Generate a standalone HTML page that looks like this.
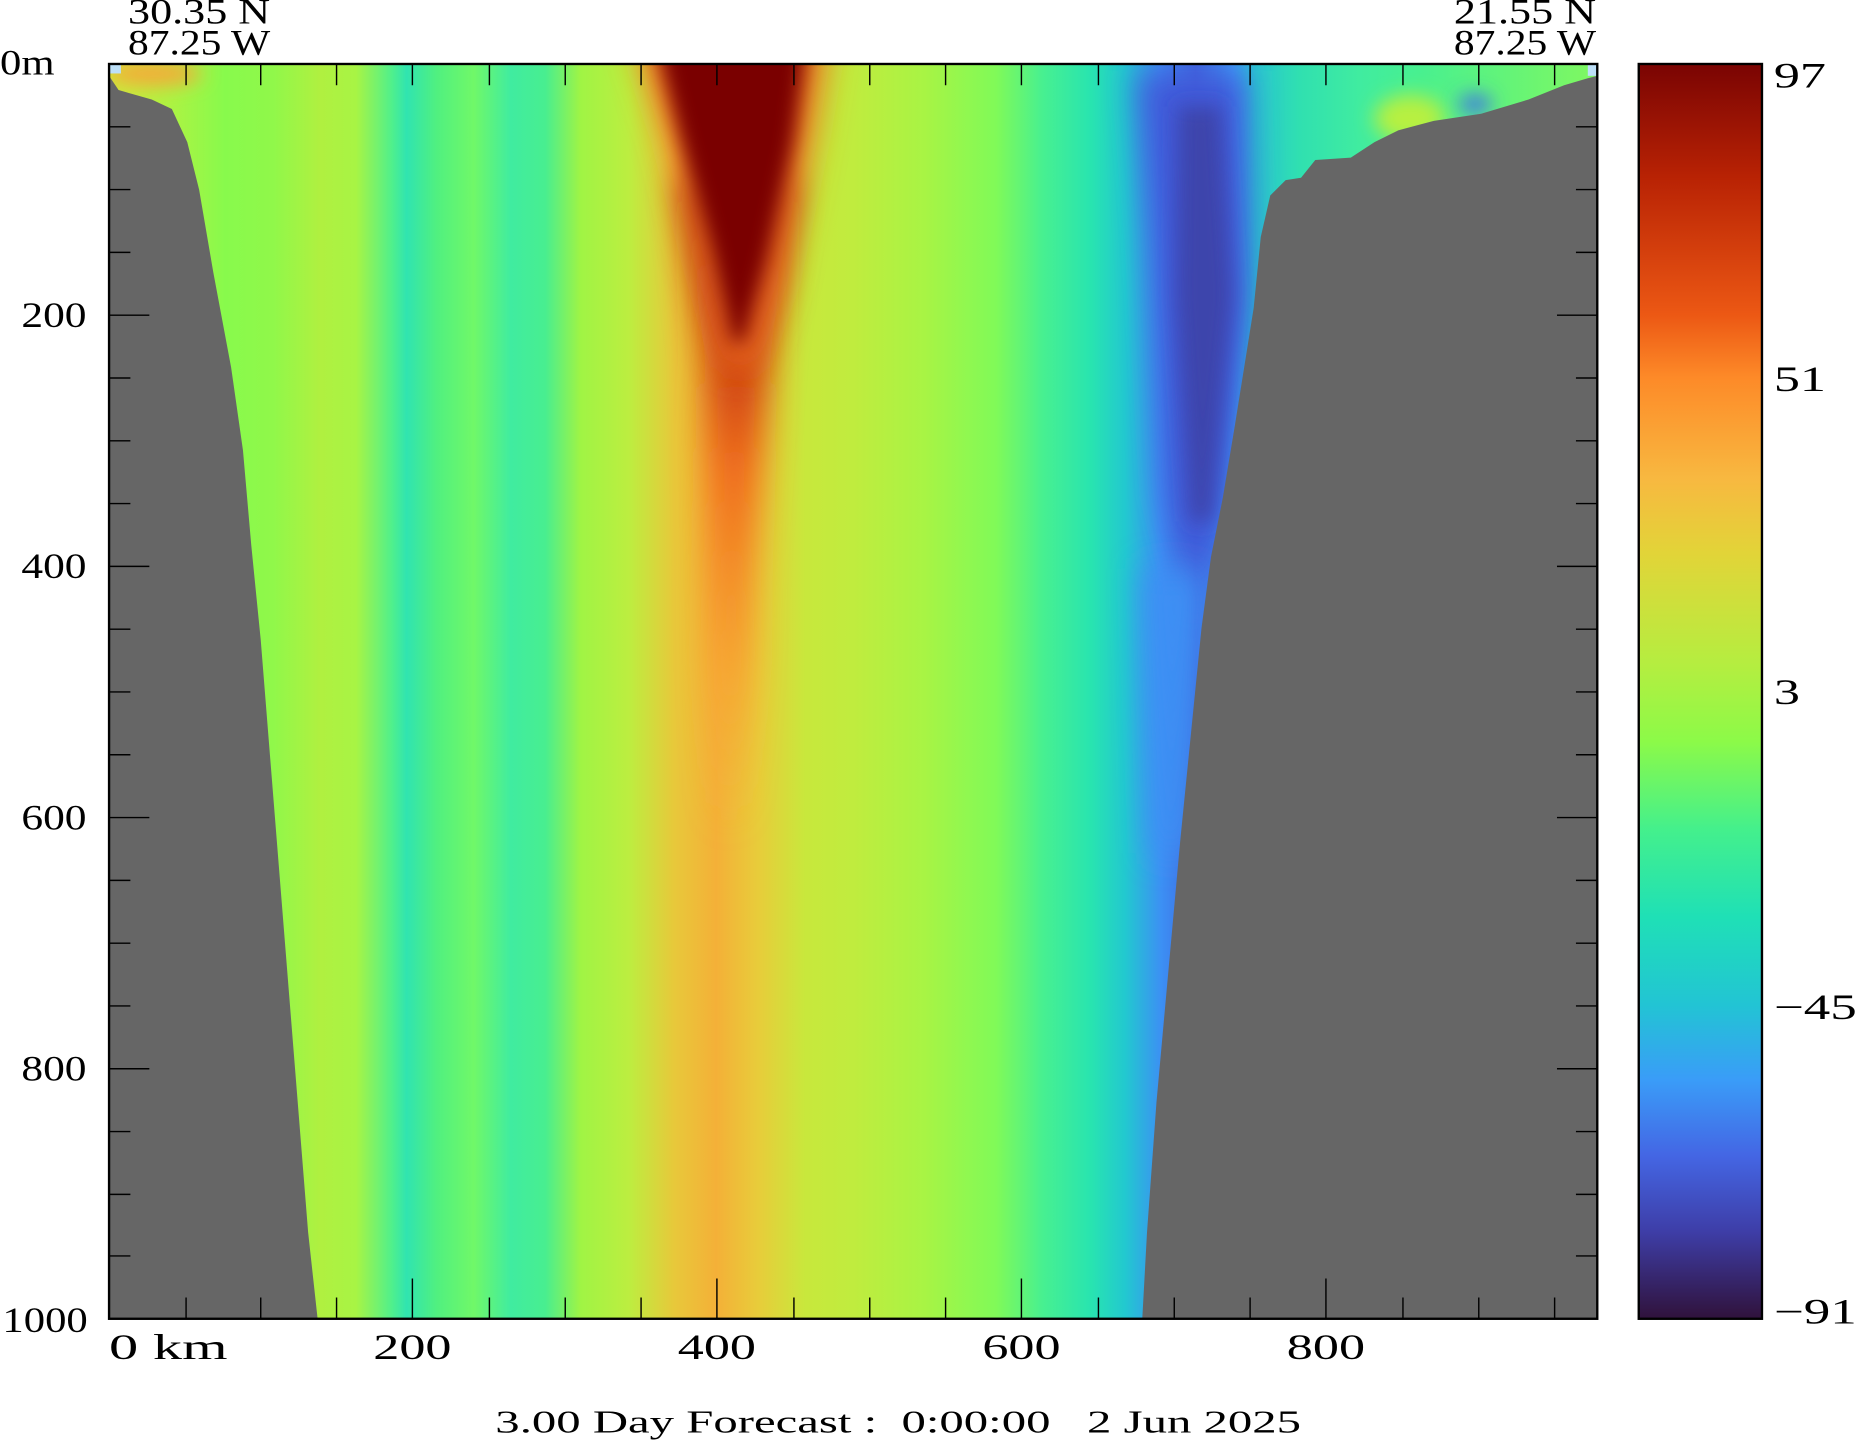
<!DOCTYPE html>
<html><head><meta charset="utf-8"><style>html,body{margin:0;padding:0;background:#fff}svg{display:block}</style></head><body>
<svg width="1858" height="1442" viewBox="0 0 1568 1217" xmlns="http://www.w3.org/2000/svg" font-family="Liberation Serif, serif">
<defs>
<linearGradient id="bg" x1="92" x2="1348" y1="0" y2="0" gradientUnits="userSpaceOnUse">
<stop offset="0.006" stop-color="#c8ec3c"/>
<stop offset="0.046" stop-color="#a8f444"/>
<stop offset="0.078" stop-color="#88fa4c"/>
<stop offset="0.11" stop-color="#90f84a"/>
<stop offset="0.142" stop-color="#b0f040"/>
<stop offset="0.166" stop-color="#a8f444"/>
<stop offset="0.19" stop-color="#50f08c"/>
<stop offset="0.2" stop-color="#30e4b0"/>
<stop offset="0.22" stop-color="#50f080"/>
<stop offset="0.245" stop-color="#70f868"/>
<stop offset="0.27" stop-color="#40eca0"/>
<stop offset="0.293" stop-color="#48ee90"/>
<stop offset="0.317" stop-color="#a0f444"/>
<stop offset="0.349" stop-color="#bcee40"/>
<stop offset="0.38" stop-color="#e8c83a"/>
<stop offset="0.408" stop-color="#f4b038"/>
<stop offset="0.436" stop-color="#e8cc3a"/>
<stop offset="0.468" stop-color="#c8e83c"/>
<stop offset="0.5" stop-color="#c0ec3e"/>
<stop offset="0.548" stop-color="#a8f444"/>
<stop offset="0.596" stop-color="#80fa58"/>
<stop offset="0.627" stop-color="#48f090"/>
<stop offset="0.66" stop-color="#28e4b0"/>
<stop offset="0.683" stop-color="#22c8d0"/>
<stop offset="0.707" stop-color="#3c90f4"/>
<stop offset="0.73" stop-color="#4068e0"/>
<stop offset="0.755" stop-color="#3ca0f8"/>
<stop offset="0.77" stop-color="#28c8d0"/>
<stop offset="0.8" stop-color="#30e0b0"/>
<stop offset="0.84" stop-color="#40eca0"/>
<stop offset="0.88" stop-color="#48f090"/>
<stop offset="1" stop-color="#80f860"/>
</linearGradient>
<linearGradient id="red" x1="0" x2="0" y1="150" y2="700" gradientUnits="userSpaceOnUse">
<stop offset="0" stop-color="#8a0c04"/>
<stop offset="0.2" stop-color="#b82808"/>
<stop offset="0.45" stop-color="#f06a1c"/>
<stop offset="0.75" stop-color="#f8a030"/>
<stop offset="1" stop-color="#f8a838" stop-opacity="0"/>
</linearGradient>
<linearGradient id="cb" x1="0" x2="0" y1="54" y2="1113" gradientUnits="userSpaceOnUse">
<stop offset="0" stop-color="#7a0403"/>
<stop offset="0.09" stop-color="#b82204"/>
<stop offset="0.2" stop-color="#ec5814"/>
<stop offset="0.25" stop-color="#fd8a28"/>
<stop offset="0.33" stop-color="#f8b840"/>
<stop offset="0.39" stop-color="#e2d438"/>
<stop offset="0.48" stop-color="#b4ee40"/>
<stop offset="0.54" stop-color="#8cfa48"/>
<stop offset="0.61" stop-color="#44f08c"/>
<stop offset="0.68" stop-color="#1fe0b6"/>
<stop offset="0.75" stop-color="#22c4d4"/>
<stop offset="0.81" stop-color="#3a9cf8"/>
<stop offset="0.87" stop-color="#4466e4"/>
<stop offset="0.93" stop-color="#3e3ea8"/>
<stop offset="1" stop-color="#30123b"/>
</linearGradient>
<filter id="bl" filterUnits="userSpaceOnUse" x="0" y="0" width="1568" height="1217"><feGaussianBlur stdDeviation="14"/></filter>
<filter id="bl2" filterUnits="userSpaceOnUse" x="0" y="0" width="1568" height="1217"><feGaussianBlur stdDeviation="8"/></filter>
<clipPath id="pc"><rect x="92" y="54" width="1256" height="1059"/></clipPath>
</defs>
<g clip-path="url(#pc)">
<rect x="92" y="54" width="1256" height="1059" fill="url(#bg)"/>
<polygon points="575,150 670,150 650,300 635,480 625,700 605,700 600,480 595,300" fill="url(#red)" filter="url(#bl)"/>
<polygon points="535,30 700,30 685,120 660,240 635,310 615,310 590,220 565,120" fill="#f07020" filter="url(#bl)"/>
<polygon points="552,30 682,30 670,120 648,220 628,290 618,290 600,210 575,120" fill="#7a0403" filter="url(#bl2)"/>
<polygon points="960,60 1050,60 1055,250 1035,420 1010,520 985,420 972,200" fill="#4058d8" filter="url(#bl)"/>
<polygon points="995,90 1030,90 1040,250 1022,440 1005,440 993,250" fill="#3c44ac" filter="url(#bl2)"/>
<polygon points="965,480 1015,480 1000,720 975,720" fill="#3c90f4" filter="url(#bl)"/>
<ellipse cx="130" cy="62" rx="40" ry="10" fill="#f8a838" filter="url(#bl2)"/>
<ellipse cx="1190" cy="100" rx="30" ry="20" fill="#b8f040" filter="url(#bl2)"/>
<ellipse cx="1245" cy="88" rx="14" ry="8" fill="#4070e8" filter="url(#bl2)"/>
<polygon fill="#666" points="92,64 100,76 128,84 145,92 158,120 168,160 180,230 195,310 205,380 212,460 220,540 228,640 236,740 244,840 252,940 260,1040 268,1113 92,1113"/>
<polygon fill="#666" points="964,1113 968,1040 976,930 986,820 996,710 1006,610 1014,530 1022,470 1032,420 1042,360 1050,310 1058,260 1064,200 1072,165 1085,152 1098,150 1110,135 1140,133 1160,120 1180,110 1210,102 1250,96 1290,84 1320,72 1340,66 1348,64 1348,1113"/>
<rect x="92" y="54" width="10" height="8" fill="#bde0f8"/>
<rect x="1340" y="54" width="8" height="10" fill="#bde0f8"/>
</g>
<rect x="92" y="54" width="1256" height="1059" fill="none" stroke="#000" stroke-width="2"/>
<g stroke="#000" stroke-width="1.2">
<path d="M157,54v18M220,54v18M284,54v18M348,54v18M413,54v18M477,54v18M541,54v18M605,54v18M670,54v18M734,54v18M798,54v18M862,54v18M927,54v18M991,54v18M1055,54v18M1119,54v18M1184,54v18M1248,54v18M1312,54v18"/>
<path d="M157,1113v-18M220,1113v-18M284,1113v-18M348,1113v-34M413,1113v-18M477,1113v-18M541,1113v-18M605,1113v-34M670,1113v-18M734,1113v-18M798,1113v-18M862,1113v-34M927,1113v-18M991,1113v-18M1055,1113v-18M1119,1113v-34M1184,1113v-18M1248,1113v-18M1312,1113v-18"/>
<path d="M92,107h18M92,160h18M92,213h18M92,266h34M92,319h18M92,372h18M92,425h18M92,478h34M92,531h18M92,584h18M92,637h18M92,690h34M92,743h18M92,796h18M92,849h18M92,902h34M92,955h18M92,1008h18M92,1060h18"/>
<path d="M1348,107h-18M1348,160h-18M1348,213h-18M1348,266h-34M1348,319h-18M1348,372h-18M1348,425h-18M1348,478h-34M1348,531h-18M1348,584h-18M1348,637h-18M1348,690h-34M1348,743h-18M1348,796h-18M1348,849h-18M1348,902h-34M1348,955h-18M1348,1008h-18M1348,1060h-18"/>
</g>
<rect x="1383" y="54" width="104" height="1059" fill="url(#cb)" stroke="#000" stroke-width="2"/>
<g font-size="30" fill="#000">
<text x="108" y="20" textLength="120" lengthAdjust="spacingAndGlyphs">30.35 N</text>
<text x="108" y="46" textLength="120" lengthAdjust="spacingAndGlyphs">87.25 W</text>
<text x="1227" y="20" textLength="120" lengthAdjust="spacingAndGlyphs">21.55 N</text>
<text x="1227" y="46" textLength="120" lengthAdjust="spacingAndGlyphs">87.25 W</text>
<text x="0" y="63" textLength="46" lengthAdjust="spacingAndGlyphs">0m</text>
<text x="18" y="276" textLength="55" lengthAdjust="spacingAndGlyphs">200</text>
<text x="18" y="488" textLength="55" lengthAdjust="spacingAndGlyphs">400</text>
<text x="18" y="700" textLength="55" lengthAdjust="spacingAndGlyphs">600</text>
<text x="18" y="912" textLength="55" lengthAdjust="spacingAndGlyphs">800</text>
<text x="2" y="1124" textLength="72" lengthAdjust="spacingAndGlyphs">1000</text>
<text x="92" y="1147" textLength="100" lengthAdjust="spacingAndGlyphs">0 km</text>
<text x="315" y="1147" textLength="66" lengthAdjust="spacingAndGlyphs">200</text>
<text x="572" y="1147" textLength="66" lengthAdjust="spacingAndGlyphs">400</text>
<text x="829" y="1147" textLength="66" lengthAdjust="spacingAndGlyphs">600</text>
<text x="1086" y="1147" textLength="66" lengthAdjust="spacingAndGlyphs">800</text>
<text x="1497" y="74" textLength="44" lengthAdjust="spacingAndGlyphs">97</text>
<text x="1497" y="330" textLength="44" lengthAdjust="spacingAndGlyphs">51</text>
<text x="1497" y="594" textLength="22" lengthAdjust="spacingAndGlyphs">3</text>
<text x="1497" y="860" textLength="70" lengthAdjust="spacingAndGlyphs">−45</text>
<text x="1497" y="1117" textLength="70" lengthAdjust="spacingAndGlyphs">−91</text>
<text x="418" y="1209" font-size="27" textLength="680" lengthAdjust="spacingAndGlyphs" xml:space="preserve">3.00 Day Forecast :  0:00:00   2 Jun 2025</text>
</g>
</svg>
</body></html>
